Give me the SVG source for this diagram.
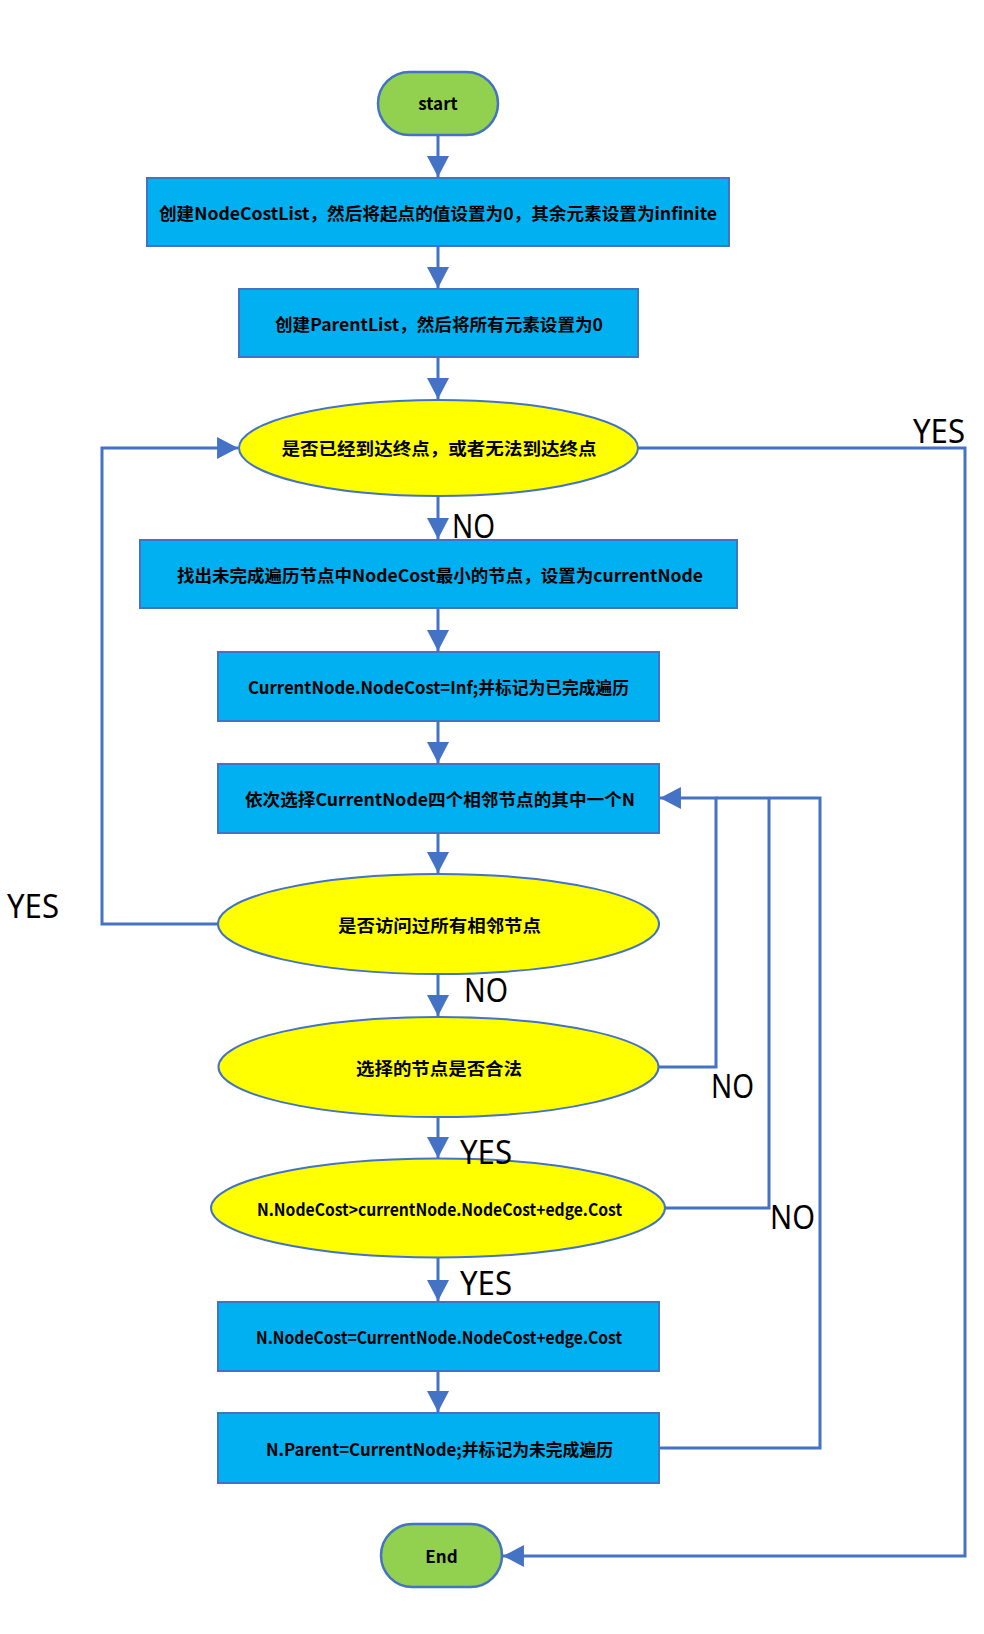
<svg xmlns="http://www.w3.org/2000/svg" width="984" height="1634" viewBox="0 0 984 1634">
<defs>
<marker id="arr" markerUnits="userSpaceOnUse" markerWidth="22" markerHeight="22" viewBox="0 0 20 21" refX="20" refY="10.5" orient="auto">
<path d="M0,0 L20,10.5 L0,21 Z" fill="#4472C4"/>
</marker>
<style>
.box{fill:#00B0F0;stroke:#4472C4;stroke-width:2}
.dec{fill:#FFFF00;stroke:#4472C4;stroke-width:2}
.term{fill:#92D050;stroke:#4472C4;stroke-width:2.5}
.t{font-family:"Noto Sans CJK SC","Noto Sans",sans-serif;font-weight:bold;font-size:17px;fill:#000;text-anchor:middle}
.lbl{font-family:"Noto Sans","Open Sans",sans-serif;font-size:32px;fill:#000}
.c{fill:none;stroke:#4472C4;stroke-width:3}
</style>
</defs>
<rect width="984" height="1634" fill="#fff"/>
<g id="connectors">
<path class="c" d="M438,135 V177" marker-end="url(#arr)"/>
<path class="c" d="M438,246 V288" marker-end="url(#arr)"/>
<path class="c" d="M438,357 V399" marker-end="url(#arr)"/>
<path class="c" d="M438,496 V539" marker-end="url(#arr)"/>
<path class="c" d="M438,608 V651" marker-end="url(#arr)"/>
<path class="c" d="M438,721 V763" marker-end="url(#arr)"/>
<path class="c" d="M438,833 V873" marker-end="url(#arr)"/>
<path class="c" d="M438,974 V1016" marker-end="url(#arr)"/>
<path class="c" d="M438,1117 V1158" marker-end="url(#arr)"/>
<path class="c" d="M438,1258 V1301" marker-end="url(#arr)"/>
<path class="c" d="M438,1371 V1412" marker-end="url(#arr)"/>
<path class="c" d="M638,448 H965 V1556 H503" marker-end="url(#arr)"/>
<path class="c" d="M218,924 H102 V448 H238" marker-end="url(#arr)"/>
<path class="c" d="M658,1067 H716 V798 H660" marker-end="url(#arr)"/>
<path class="c" d="M665,1208 H769 V798"/>
<path class="c" d="M659,1448 H820 V798 H716"/>
</g>
<g id="start">
<rect class="term" x="378" y="72" width="120" height="63" rx="31.5"/>
<text class="t" x="438" y="110" font-size="15">start</text>
</g>
<g id="init-nodecost">
<rect class="box" x="147" y="178" width="582" height="68"/>
<text class="t" x="438" y="220" textLength="558" lengthAdjust="spacingAndGlyphs">创建NodeCostList，然后将起点的值设置为0，其余元素设置为infinite</text>
</g>
<g id="init-parent">
<rect class="box" x="239" y="289" width="399" height="68"/>
<text class="t" x="439" y="331" textLength="328" lengthAdjust="spacingAndGlyphs">创建ParentList，然后将所有元素设置为0</text>
</g>
<g id="check-end">
<ellipse class="dec" cx="438.5" cy="448" rx="199.5" ry="48"/>
<text class="t" x="439" y="455" textLength="315" lengthAdjust="spacingAndGlyphs">是否已经到达终点，或者无法到达终点</text>
</g>
<g id="find-min">
<rect class="box" x="140" y="540" width="597" height="68"/>
<text class="t" x="440" y="582" textLength="526" lengthAdjust="spacingAndGlyphs">找出未完成遍历节点中NodeCost最小的节点，设置为currentNode</text>
</g>
<g id="mark-done">
<rect class="box" x="218" y="652" width="441" height="69"/>
<text class="t" x="438.5" y="694" textLength="381" lengthAdjust="spacingAndGlyphs">CurrentNode.NodeCost=Inf;并标记为已完成遍历</text>
</g>
<g id="select-neighbor">
<rect class="box" x="218" y="764" width="441" height="69"/>
<text class="t" x="440" y="806" textLength="390" lengthAdjust="spacingAndGlyphs">依次选择CurrentNode四个相邻节点的其中一个N</text>
</g>
<g id="all-visited">
<ellipse class="dec" cx="438.5" cy="924" rx="220.5" ry="50"/>
<text class="t" x="439.5" y="932" textLength="203" lengthAdjust="spacingAndGlyphs">是否访问过所有相邻节点</text>
</g>
<g id="valid">
<ellipse class="dec" cx="438.5" cy="1067" rx="220" ry="50"/>
<text class="t" x="439" y="1075" textLength="166" lengthAdjust="spacingAndGlyphs">选择的节点是否合法</text>
</g>
<g id="compare-cost">
<ellipse class="dec" cx="438" cy="1208" rx="227" ry="49.5"/>
<text class="t" x="439.5" y="1216" textLength="365" lengthAdjust="spacingAndGlyphs">N.NodeCost&gt;currentNode.NodeCost+edge.Cost</text>
</g>
<g id="update-cost">
<rect class="box" x="218" y="1302" width="441" height="69"/>
<text class="t" x="439" y="1344" textLength="366" lengthAdjust="spacingAndGlyphs">N.NodeCost=CurrentNode.NodeCost+edge.Cost</text>
</g>
<g id="update-parent">
<rect class="box" x="218" y="1413" width="441" height="70"/>
<text class="t" x="439.5" y="1456" textLength="347" lengthAdjust="spacingAndGlyphs">N.Parent=CurrentNode;并标记为未完成遍历</text>
</g>
<g id="end">
<rect class="term" x="381" y="1524" width="121" height="63" rx="31.5"/>
<text class="t" x="441.5" y="1563" font-size="15">End</text>
</g>
<g id="labels">
<text class="lbl" x="913" y="443" textLength="52" lengthAdjust="spacingAndGlyphs">YES</text>
<text class="lbl" x="452" y="538" textLength="43" lengthAdjust="spacingAndGlyphs">NO</text>
<text class="lbl" x="7" y="918" textLength="52" lengthAdjust="spacingAndGlyphs">YES</text>
<text class="lbl" x="464" y="1002" textLength="44" lengthAdjust="spacingAndGlyphs">NO</text>
<text class="lbl" x="711" y="1098" textLength="43" lengthAdjust="spacingAndGlyphs">NO</text>
<text class="lbl" x="460" y="1164" textLength="52" lengthAdjust="spacingAndGlyphs">YES</text>
<text class="lbl" x="770" y="1229" textLength="45" lengthAdjust="spacingAndGlyphs">NO</text>
<text class="lbl" x="460" y="1295" textLength="52" lengthAdjust="spacingAndGlyphs">YES</text>
</g>
</svg>
